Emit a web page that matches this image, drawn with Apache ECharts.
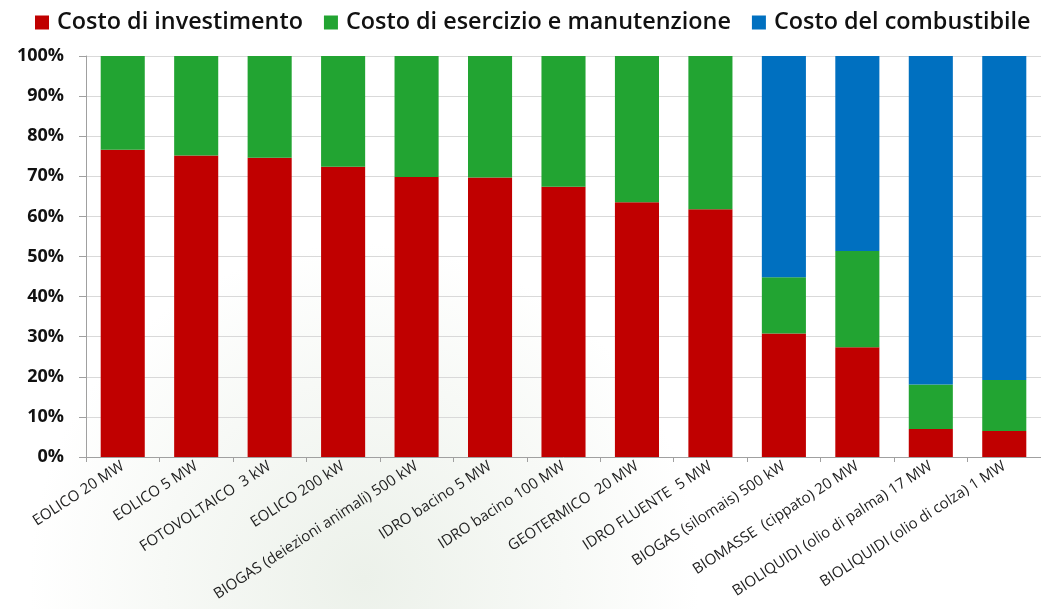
<!DOCTYPE html>
<html>
<head>
<meta charset="utf-8">
<script src="https://cdn.jsdelivr.net/npm/echarts@6/dist/echarts.min.js"></script>
<style>
  html, body { margin: 0; padding: 0; background: #fff; }
  #chart { width: 1041px; height: 609px; }
</style>
</head>
<body>
<div id="chart"></div>
<script>
const categories = [
  "EOLICO 20 MW", "EOLICO 5 MW", "FOTOVOLTAICO  3 kW", "EOLICO 200 kW",
  "BIOGAS (deiezioni animali) 500 kW", "IDRO bacino 5 MW", "IDRO bacino 100 MW",
  "GEOTERMICO  20 MW", "IDRO FLUENTE  5 MW", "BIOGAS (silomais) 500 kW",
  "BIOMASSE  (cippato) 20 MW", "BIOLIQUIDI (olio di palma) 17 MW", "BIOLIQUIDI (olio di colza) 1 MW"
];
const investimento = [76.6, 75.2, 74.6, 72.4, 69.8, 69.7, 67.4, 63.5, 61.8, 30.8, 27.4, 7.0, 6.5];
const esercizio = [23.4, 24.8, 25.4, 27.6, 30.2, 30.3, 32.6, 36.5, 38.2, 14.0, 24.0, 11.1, 12.7];
const combustibile = [0, 0, 0, 0, 0, 0, 0, 0, 0, 55.2, 48.6, 81.9, 80.8];
const seriesNames = ["Costo di investimento", "Costo di esercizio e manutenzione", "Costo del combustibile"];
const colors = ["#c00000", "#22a432", "#0070c0"];

const chart = echarts.init(document.getElementById("chart"));

const makeSeries = (name, data, color) => ({
  name: name,
  type: "bar",
  stack: "tot",
  barWidth: "60%",
  itemStyle: { color: color },
  data: data
});

const option = {
  animation: false,
  // leggera sfumatura verdina sullo sfondo, come nell'originale
  backgroundColor: new echarts.graphic.RadialGradient(0.35, 0.95, 0.55, [
    { offset: 0, color: "rgba(236,241,234,1)" },
    { offset: 0.6, color: "rgba(247,249,246,1)" },
    { offset: 1, color: "rgba(255,255,255,1)" }
  ]),
  textStyle: { fontFamily: "Open Sans" },
  color: colors,
  legend: {
    top: 6,
    left: 30,
    right: 0,
    itemWidth: 14,
    itemHeight: 14,
    itemGap: 21,
    icon: "rect",
    textStyle: { fontSize: 23.4, fontWeight: 600, color: "#111", padding: [0, 0, 0, 3] },
    data: seriesNames
  },
  grid: {
    left: 86,
    right: 0,
    top: 56,
    bottom: 152
  },
  xAxis: {
    type: "category",
    data: categories,
    axisLine: { lineStyle: { color: "#a0a0a0" } },
    axisTick: { show: true, length: 5, lineStyle: { color: "#a0a0a0" } },
    axisLabel: {
      interval: 0,
      rotate: 33,
      fontSize: 15,
      color: "#222",
      margin: 8
    }
  },
  yAxis: {
    type: "value",
    min: 0,
    max: 100,
    interval: 10,
    axisLine: { show: true, lineStyle: { color: "#a0a0a0" } },
    axisTick: { show: true, length: 7, lineStyle: { color: "#a0a0a0" } },
    axisLabel: {
      formatter: "{value}%",
      fontSize: 18,
      fontWeight: "bold",
      color: "#111",
      margin: 22
    },
    splitLine: { lineStyle: { color: "#d9d9d9" } }
  },
  series: [
    makeSeries(seriesNames[0], investimento, colors[0]),
    makeSeries(seriesNames[1], esercizio, colors[1]),
    makeSeries(seriesNames[2], combustibile, colors[2])
  ]
};

chart.setOption(option);
</script>
</body>
</html>
